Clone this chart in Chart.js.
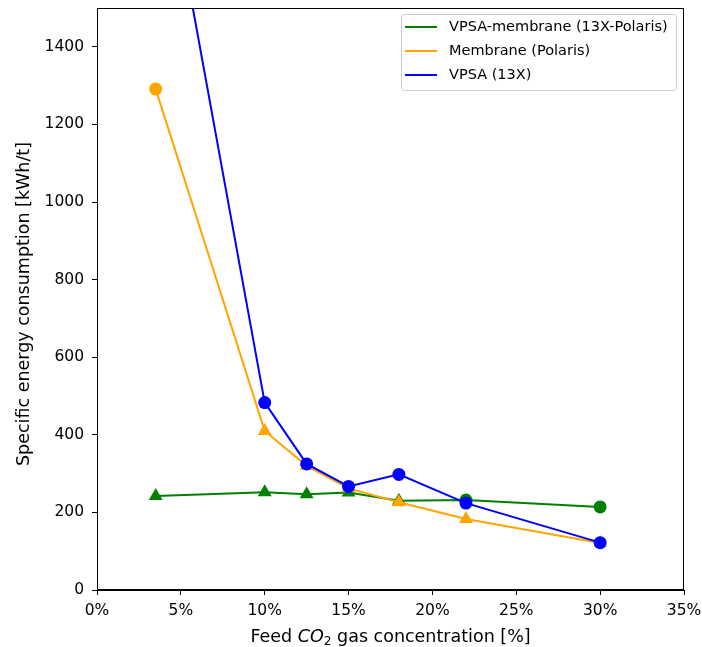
<!DOCTYPE html>
<html><head><meta charset="utf-8">
<script src="https://cdn.jsdelivr.net/npm/chart.js@4.4.0/dist/chart.umd.min.js"></script>
<style>html,body{margin:0;padding:0;background:#fff;}canvas{display:block;}</style>
</head><body>
<canvas id="c" width="702" height="647"></canvas>
<script>
const concentrations = [3.5, 10, 12.5, 15, 18, 22, 30];
const hybridValues   = [242, 252, 247, 251, 230, 232, 214];
const membraneValues = [1291, 410, 320, 262, 226, 183, 121];
const vpsaValues     = [2025, 483, 325, 267, 298, 224, 122];
const hybridMarkers   = ['triangle','triangle','triangle','triangle','triangle','circle','circle'];
const membraneMarkers = ['circle','triangle','triangle','triangle','triangle','triangle','triangle'];
const vpsaMarkers     = ['circle','circle','circle','circle','circle','circle','circle'];
const seriesNames = ['VPSA-membrane (13X-Polaris)', 'Membrane (Polaris)', 'VPSA (13X)'];
const seriesColors = ['#008000', '#FFA500', '#0000FF'];
const xTicks = [0, 5, 10, 15, 20, 25, 30, 35];
const yTicks = [0, 200, 400, 600, 800, 1000, 1200, 1400];
const yLabel = 'Specific energy consumption [kWh/t]';

const FONT = "'DejaVu Sans', sans-serif";
const AREA = {left: 97, right: 684, top: 7, bottom: 590};
const TICK_SIZE = 15.5, LEGEND_SIZE = 14.5, TITLE_SIZE = 17.5;

function pts(vals) { return concentrations.map((x, i) => ({x, y: vals[i]})); }
function radii(markers) { return markers.map(m => m === 'triangle' ? 8 : 6.5); }

function makeSet(i, vals, markers, order) {
  return {
    label: seriesNames[i],
    data: pts(vals),
    borderColor: seriesColors[i],
    backgroundColor: seriesColors[i],
    pointBackgroundColor: seriesColors[i],
    pointBorderColor: seriesColors[i],
    pointBorderWidth: 0,
    pointStyle: markers,
    pointRadius: radii(markers),
    borderWidth: 2,
    tension: 0,
    order: order
  };
}

const decor = {
  id: 'decor',
  afterDraw(chart) {
    const ctx = chart.ctx;
    const a = chart.chartArea;
    ctx.save();
    ctx.strokeStyle = '#000';
    ctx.lineWidth = 1;
    ctx.strokeRect(Math.round(a.left) + 0.5, Math.round(a.top) + 0.5, Math.round(a.right - a.left) - 1, Math.round(a.bottom - a.top) - 1);

    // legend
    const lx = 401, ly = 14, lw = 275, lh = 76;
    ctx.fillStyle = 'rgba(255,255,255,0.8)';
    ctx.strokeStyle = '#cccccc';
    ctx.lineWidth = 1;
    ctx.beginPath();
    if (ctx.roundRect) ctx.roundRect(lx + 0.5, ly + 0.5, lw, lh, 3); else ctx.rect(lx + 0.5, ly + 0.5, lw, lh);
    ctx.fill(); ctx.stroke();
    ctx.font = LEGEND_SIZE + 'px ' + FONT;
    ctx.textBaseline = 'middle';
    ctx.textAlign = 'left';
    chart.data.datasets.forEach((ds, i) => {
      const y = 27 + i * 24;
      ctx.strokeStyle = ds.borderColor;
      ctx.lineWidth = 2;
      ctx.beginPath(); ctx.moveTo(405, y); ctx.lineTo(437, y); ctx.stroke();
      ctx.fillStyle = '#000';
      ctx.fillText(ds.label, 449, y);
    });

    // x title with italic CO and subscript 2
    const cx = (a.left + a.right) / 2;
    const by = 642;
    const parts = [
      {t: 'Feed ', f: TITLE_SIZE + 'px ' + FONT, dy: 0},
      {t: 'CO', f: 'italic ' + TITLE_SIZE + 'px ' + FONT, dy: 0},
      {t: '2', f: (TITLE_SIZE * 0.7) + 'px ' + FONT, dy: 3},
      {t: ' gas concentration [%]', f: TITLE_SIZE + 'px ' + FONT, dy: 0}
    ];
    let total = 0;
    parts.forEach(p => { ctx.font = p.f; p.w = ctx.measureText(p.t).width; total += p.w; });
    let x = cx - total / 2;
    ctx.fillStyle = '#000';
    ctx.textBaseline = 'alphabetic';
    parts.forEach(p => { ctx.font = p.f; ctx.fillText(p.t, x, by + p.dy); x += p.w; });

    // y title
    ctx.translate(28.5, 304);
    ctx.rotate(-Math.PI / 2);
    ctx.font = TITLE_SIZE + 'px ' + FONT;
    ctx.textAlign = 'center';
    ctx.textBaseline = 'alphabetic';
    ctx.fillText(yLabel, 0, 0);
    ctx.restore();
  }
};

new Chart(document.getElementById('c'), {
  type: 'line',
  data: {
    datasets: [
      makeSet(0, hybridValues, hybridMarkers, 3),
      makeSet(1, membraneValues, membraneMarkers, 2),
      makeSet(2, vpsaValues, vpsaMarkers, 1)
    ]
  },
  options: {
    responsive: false,
    animation: false,
    devicePixelRatio: 1,
    layout: {padding: {left: 0, right: 702 - AREA.right, top: AREA.top, bottom: 0}},
    plugins: {legend: {display: false}, tooltip: {enabled: false}},
    scales: {
      x: {
        type: 'linear', min: 0, max: 35,
        afterBuildTicks: s => { s.ticks = xTicks.map(v => ({value: v})); },
        afterFit: s => { s.height = 647 - AREA.bottom; s.paddingLeft = 0; s.paddingRight = 0; },
        ticks: {callback: v => v + '%', color: '#000', font: {family: FONT, size: TICK_SIZE}, padding: 7, maxRotation: 0, autoSkip: false},
        grid: {drawOnChartArea: false, tickLength: 5, color: '#000', tickColor: '#000'},
        border: {display: true, color: '#000', width: 1}
      },
      y: {
        type: 'linear', min: 0, max: 1500,
        afterBuildTicks: s => { s.ticks = yTicks.map(v => ({value: v})); },
        afterFit: s => { s.width = AREA.left; s.paddingTop = 0; s.paddingBottom = 0; },
        ticks: {callback: v => String(v), color: '#000', font: {family: FONT, size: TICK_SIZE}, padding: 8, autoSkip: false},
        grid: {drawOnChartArea: false, tickLength: 5, color: '#000', tickColor: '#000'},
        border: {display: true, color: '#000', width: 1}
      }
    }
  },
  plugins: [decor]
});
</script>
</body></html>
